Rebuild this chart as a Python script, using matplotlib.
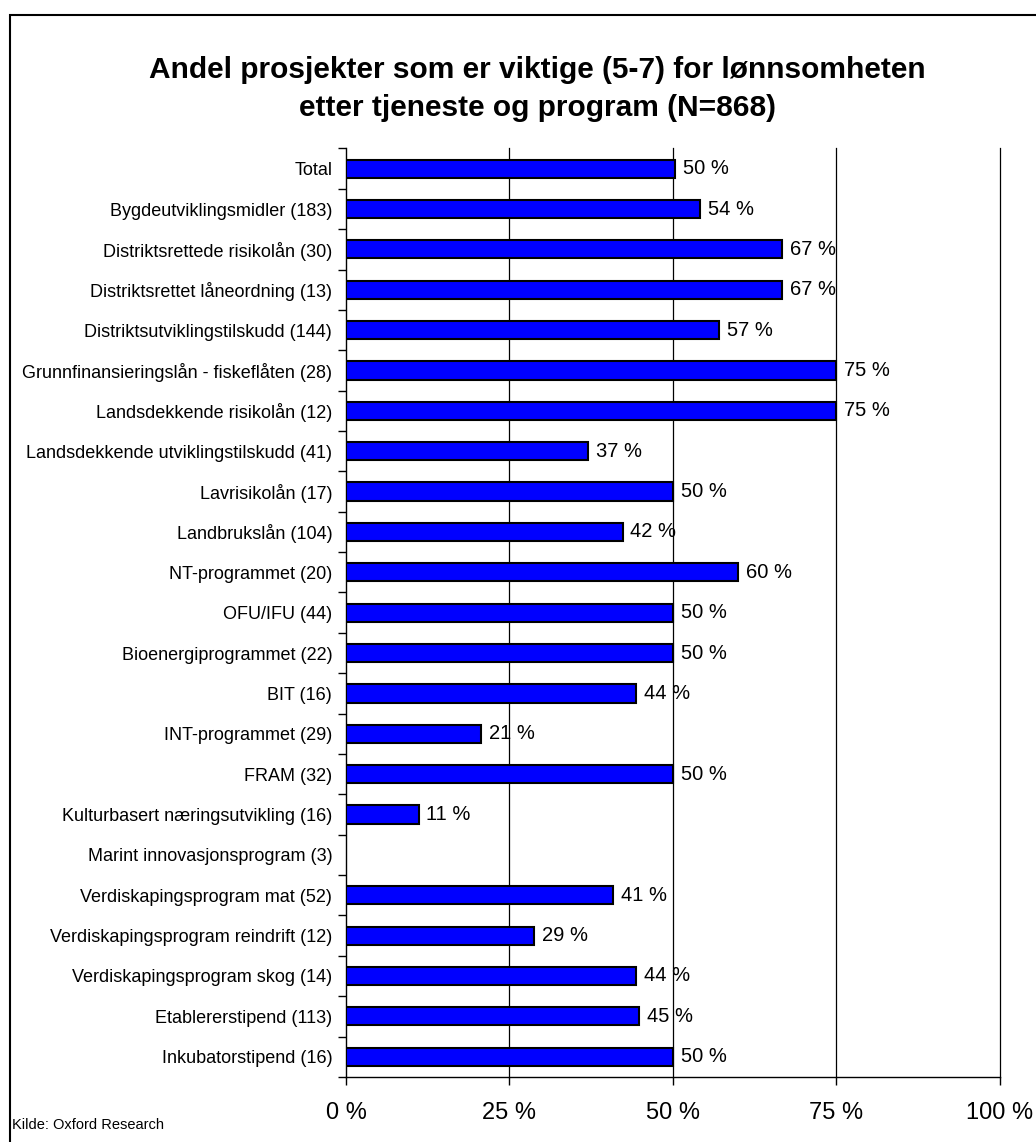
import numpy as np
import matplotlib
matplotlib.use("Agg")
import matplotlib.pyplot as plt
from matplotlib.patches import Rectangle
from matplotlib.ticker import FixedLocator

plt.rcParams['font.family'] = ['Liberation Sans', 'DejaVu Sans']

# data (top to bottom)
categories = [
    "Total",
    "Bygdeutviklingsmidler (183)",
    "Distriktsrettede risikolån (30)",
    "Distriktsrettet låneordning (13)",
    "Distriktsutviklingstilskudd (144)",
    "Grunnfinansieringslån - fiskeflåten (28)",
    "Landsdekkende risikolån (12)",
    "Landsdekkende utviklingstilskudd (41)",
    "Lavrisikolån (17)",
    "Landbrukslån (104)",
    "NT-programmet (20)",
    "OFU/IFU (44)",
    "Bioenergiprogrammet (22)",
    "BIT (16)",
    "INT-programmet (29)",
    "FRAM (32)",
    "Kulturbasert næringsutvikling (16)",
    "Marint innovasjonsprogram (3)",
    "Verdiskapingsprogram mat (52)",
    "Verdiskapingsprogram reindrift (12)",
    "Verdiskapingsprogram skog (14)",
    "Etablererstipend (113)",
    "Inkubatorstipend (16)",
]
values = [50.3, 54.1, 66.7, 66.7, 57.1, 75.0, 75.0, 37.0, 50.0, 42.3, 60.0, 50.0,
          50.0, 44.4, 20.7, 50.0, 11.1, np.nan, 40.9, 28.8, 44.4, 44.8, 50.0]
xticks = [0, 25, 50, 75, 100]

fig = plt.figure(figsize=(10.36, 11.42), dpi=100)
ax = fig.add_axes([0.334, 0.057, 0.631, 0.813])

y = np.arange(len(categories))
bars = ax.barh(y, values, height=0.45, color='#0000FF', edgecolor='black', linewidth=1.5, zorder=3)

for yi, v in zip(y, values):
    if np.isnan(v):
        continue
    ax.text(v + 1.2, yi, f"{round(v):.0f} %", va='center', ha='left', fontsize=14.5, zorder=4)

ax.set_xlim(0, 100)
ax.set_ylim(len(categories) - 0.5, -0.5)
ax.set_xticks(xticks)
ax.set_xticklabels([f"{t} %" for t in xticks], fontsize=17)
ax.tick_params(axis='x', length=6, width=1, pad=12)

ax.set_yticks(y)
ax.set_yticklabels(categories, fontsize=13)
ax.yaxis.set_minor_locator(FixedLocator(np.arange(-0.5, len(categories), 1)))
ax.tick_params(axis='y', which='major', length=0, pad=10)
ax.tick_params(axis='y', which='minor', length=6, width=1)

# vertical gridlines, the one at 100 % doubles as the right edge
for t in xticks[1:]:
    ax.axvline(t, color='black', linewidth=0.9, zorder=0, clip_on=False)
ax.spines['top'].set_visible(False)
ax.spines['right'].set_visible(False)
ax.spines['left'].set_linewidth(1)
ax.spines['bottom'].set_linewidth(1)

fig.text(0.519, 0.922, "Andel prosjekter som er viktige (5-7) for lønnsomheten\netter tjeneste og program (N=868)",
         ha='center', va='center', fontsize=21.5, fontweight='bold', linespacing=1.45)
fig.text(0.012, 0.015, "Kilde: Oxford Research", fontsize=10.5, ha='left', va='center')

# outer frame of the chart
fig.patches.append(Rectangle((0.0097, -0.05), 1.2, 1.037, transform=fig.transFigure,
                             fill=False, edgecolor='black', linewidth=1.5))

fig.savefig("out.png", dpi=100)
